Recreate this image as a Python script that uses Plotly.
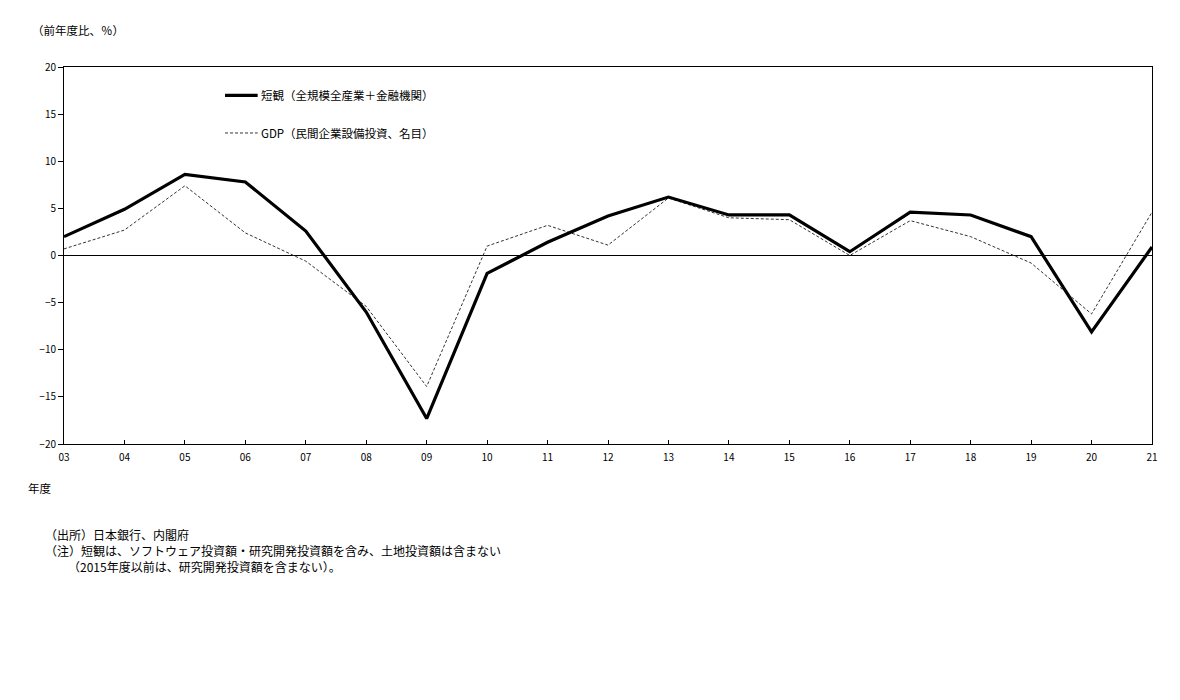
import plotly.graph_objects as go

# Fiscal years (labels on the x axis)
years = ["03", "04", "05", "06", "07", "08", "09", "10", "11", "12",
         "13", "14", "15", "16", "17", "18", "19", "20", "21"]

# 短観（全規模全産業＋金融機関）, y/y %
tankan = [2.0, 4.9, 8.6, 7.8, 2.6, -6.0, -17.3, -1.9, 1.4, 4.2,
          6.2, 4.3, 4.3, 0.4, 4.6, 4.3, 2.0, -8.1, 0.9]

# GDP（民間企業設備投資、名目）, y/y %
gdp = [0.7, 2.7, 7.4, 2.4, -0.6, -5.4, -13.9, 1.0, 3.2, 1.1,
       6.1, 4.0, 3.8, 0.0, 3.7, 2.0, -0.8, -6.2, 4.6]

y_ticks = [20, 15, 10, 5, 0, -5, -10, -15, -20]

tankan_name = "短観（全規模全産業＋金融機関）"
gdp_name = "GDP（民間企業設備投資、名目）"

FONT = "Noto Sans CJK JP"

fig = go.Figure()

fig.add_trace(go.Scatter(
    x=years, y=gdp, mode="lines", name=gdp_name,
    line=dict(color="#333333", width=1, dash="3px,2px"),
    showlegend=False,
))
fig.add_trace(go.Scatter(
    x=years, y=tankan, mode="lines", name=tankan_name,
    line=dict(color="black", width=3.2),
    showlegend=False,
))

# --- hand-drawn legend (samples + labels) ---
legend_items = [
    (tankan_name, dict(color="black", width=3.2), 0.925),
    (gdp_name, dict(color="#333333", width=1, dash="3px,2px"), 0.825),
]
shapes = []
annotations = []
for label, line, ypos in legend_items:
    shapes.append(dict(
        type="line", xref="paper", yref="paper",
        x0=0.148, x1=0.178, y0=ypos, y1=ypos, line=line,
    ))
    annotations.append(dict(
        xref="paper", yref="paper", x=0.179, y=ypos,
        text=label, showarrow=False, xanchor="left", yanchor="middle",
        font=dict(size=11.5, color="black", family=FONT),
    ))

# --- texts outside the plot (positions measured on the reference page) ---
PL, PT, W, H = 64, 67, 1088, 377
outer_texts = [
    ("（前年度比、％）", 30, 30, 11.5),
    ("年度", 26, 488, 11.5),
    ("（出所）日本銀行、内閣府", 43, 534, 12),
    ("（注）短観は、ソフトウェア投資額・研究開発投資額を含み、土地投資額は含まない", 43, 550, 12),
    ("（2015年度以前は、研究開発投資額を含まない）。", 66, 566, 12),
]
for text, px, py, size in outer_texts:
    annotations.append(dict(
        xref="paper", yref="paper",
        x=(px - PL) / W, y=1 - (py - PT) / H,
        text=text, showarrow=False, xanchor="left", yanchor="middle",
        font=dict(size=size, color="black", family=FONT),
    ))

# page body adds 8px, so margins are 8px smaller than the measured offsets
L, T = PL - 8, PT - 8
fig.update_layout(
    width=1180, height=700,
    paper_bgcolor="white", plot_bgcolor="white",
    margin=dict(l=L, r=1180 - L - W, t=T, b=700 - T - H),
    font=dict(family=FONT, size=11, color="black"),
    shapes=shapes,
    annotations=annotations,
    showlegend=False,
)

fig.update_xaxes(
    type="category", range=[0, len(years) - 1],
    showline=True, linecolor="black", linewidth=1, mirror=True,
    ticks="inside", ticklen=4, tickcolor="black",
    ticklabelstandoff=4,
    showgrid=False, zeroline=False,
    tickfont=dict(size=10, family=FONT),
)
fig.update_yaxes(
    range=[-20, 20], tickvals=y_ticks,
    showline=True, linecolor="black", linewidth=1, mirror=True,
    ticks="outside", ticklen=5, tickcolor="black",
    showgrid=False, zeroline=True, zerolinecolor="black", zerolinewidth=1,
    tickfont=dict(size=10, family=FONT),
)

fig.write_html("out.html")
